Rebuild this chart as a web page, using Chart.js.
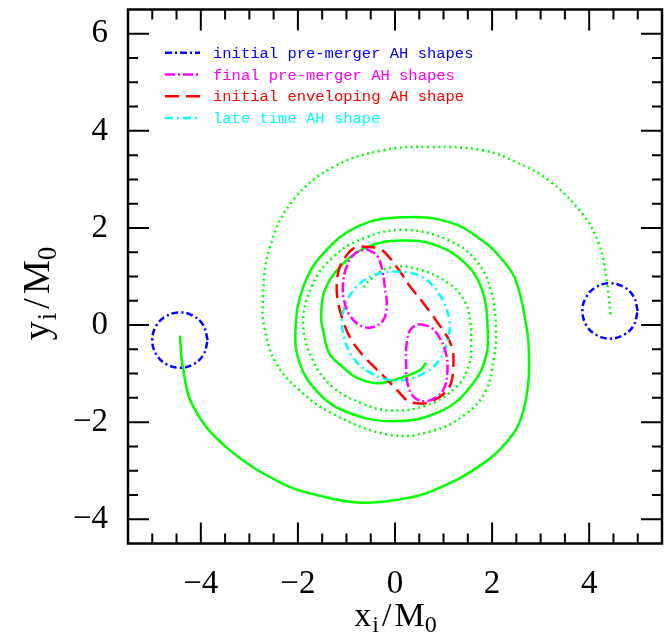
<!DOCTYPE html>
<html>
<head>
<meta charset="utf-8">
<script src="https://cdn.jsdelivr.net/npm/chart.js@4.4.1/dist/chart.umd.min.js"></script>
<style>
  html, body { margin: 0; padding: 0; background: #fff; }
  #wrap { width: 670px; height: 637px; }
</style>
</head>
<body>
<div id="wrap"><canvas id="grafico" width="670" height="637"></canvas></div>
<script>
// trajetoria do buraco 1 (linha cheia)
const bh1X = [-4.43, -4.37, -4.15, -3.47, -2.31, -1.50, -0.73, 0.05, 0.78, 1.80, 2.45, 2.66, 2.75, 2.76, 2.72, 2.49, 2.19, 1.80, 1.12, 0.20, -0.73, -1.48, -1.89, -2.05, -1.96, -1.62, -1.07, -0.05, 0.98, 1.60, 1.87, 1.91, 1.80, 1.46, 0.85, 0.13, -0.59, -1.14, -1.45, -1.52, -1.48, -1.35, -1.07, -0.80, -0.39, -0.05, 0.50, 0.64];
const bh1Y = [-0.22, -0.87, -1.69, -2.52, -3.27, -3.53, -3.66, -3.60, -3.41, -2.86, -2.22, -1.70, -1.14, -0.62, -0.11, 0.92, 1.37, 1.74, 2.12, 2.22, 2.05, 1.47, 0.78, -0.11, -0.80, -1.35, -1.76, -1.98, -1.76, -1.21, -0.66, -0.11, 0.71, 1.26, 1.64, 1.74, 1.60, 1.19, 0.71, 0.16, -0.11, -0.59, -0.87, -1.08, -1.20, -1.14, -0.94, -0.78];

// trajetoria do buraco 2 (pontilhada)
const bh2X = [4.44, 4.37, 4.20, 3.86, 3.17, 2.49, 1.80, 0.78, -0.25, -1.28, -2.10, -2.58, -2.72, -2.68, -2.44, -1.96, -1.28, -0.11, 0.78, 1.46, 1.87, 2.04, 2.08, 1.98, 1.67, 1.12, 0.23, -0.59, -1.28, -1.72, -1.89, -1.69, -1.28, -0.66, -0.11, 0.64, 1.26, 1.53, 1.57, 1.55, 1.46, 1.12, 0.44, -0.11, -0.50, -0.64];
const bh2Y = [0.22, 0.85, 1.67, 2.29, 2.98, 3.36, 3.60, 3.67, 3.60, 3.25, 2.57, 1.60, 0.57, -0.11, -0.80, -1.35, -1.83, -2.26, -2.18, -1.83, -1.35, -0.66, -0.11, 0.71, 1.33, 1.74, 1.96, 1.81, 1.40, 0.78, 0.02, -0.73, -1.28, -1.62, -1.76, -1.66, -1.28, -0.80, -0.32, 0.05, 0.44, 0.85, 1.16, 1.18, 0.95, 0.78];

// horizontes iniciais (azul)
const ahIniEsqX = [-3.86, -3.94, -4.14, -4.43, -4.72, -4.92, -5.00, -4.92, -4.72, -4.43, -4.14, -3.94, -3.86];
const ahIniEsqY = [-0.31, -0.02, 0.18, 0.26, 0.18, -0.02, -0.31, -0.60, -0.80, -0.88, -0.80, -0.60, -0.31];
const ahIniDirX = [5.00, 4.92, 4.72, 4.43, 4.14, 3.94, 3.86, 3.94, 4.14, 4.43, 4.72, 4.92, 5.00];
const ahIniDirY = [0.29, 0.58, 0.78, 0.86, 0.78, 0.58, 0.29, 0.00, -0.20, -0.28, -0.20, 0.00, 0.29];

// horizontes finais antes da fusao (magenta)
const ahFimAX = [-0.59, -0.37, -0.26, -0.21, -0.17, -0.25, -0.49, -0.73, -0.93, -1.05, -1.07, -1.00, -0.83, -0.59];
const ahFimAY = [1.57, 1.43, 1.12, 0.78, 0.40, 0.09, -0.05, 0.00, 0.20, 0.51, 0.85, 1.19, 1.47, 1.57];
const ahFimBX = [0.50, 0.74, 0.91, 1.05, 1.08, 1.02, 0.85, 0.61, 0.40, 0.26, 0.23, 0.24, 0.33, 0.50];
const ahFimBY = [0.02, -0.05, -0.25, -0.59, -0.94, -1.28, -1.49, -1.57, -1.49, -1.21, -0.80, -0.39, -0.08, 0.02];

// horizonte envolvente inicial (vermelho)
const ahEnvX = [-0.69, -0.32, -0.15, 0.09, 0.30, 0.57, 0.85, 1.08, 1.19, 1.20, 1.15, 1.00, 0.78, 0.64, 0.44, 0.26, 0.09, -0.15, -0.42, -0.69, -0.93, -1.07, -1.18, -1.20, -1.14, -1.00, -0.87, -0.69];
const ahEnvY = [1.62, 1.57, 1.43, 1.12, 0.81, 0.47, 0.09, -0.25, -0.53, -0.87, -1.21, -1.42, -1.56, -1.61, -1.61, -1.56, -1.39, -1.14, -0.87, -0.59, -0.25, 0.09, 0.51, 0.85, 1.19, 1.43, 1.57, 1.62];

// horizonte tardio (ciano)
const ahTardeX = [-0.05, 0.50, 0.91, 1.12, 1.08, 0.91, 0.50, 0.02, -0.46, -0.87, -1.08, -1.04, -0.80, -0.46, -0.05];
const ahTardeY = [1.11, 1.02, 0.64, 0.09, -0.32, -0.73, -1.04, -1.14, -1.01, -0.66, -0.11, 0.37, 0.78, 1.02, 1.11];

const xTickValues = [-4, -2, 0, 2, 4];
const yTickValues = [-4, -2, 0, 2, 4, 6];
const legendLabels = ['initial pre-merger AH shapes', 'final pre-merger AH shapes', 'initial enveloping AH shape', 'late time AH shape'];

const VERDE = '#00ff00', AZUL = '#0000ff', MAGENTA = '#ff00ff', VERMELHO = '#ff0000', CIANO = '#00ffff';

function pares(xs, ys) {
  return xs.map((x, i) => ({ x: x, y: ys[i] }));
}

function curva(xs, ys, cor, dash, largura) {
  return {
    data: pares(xs, ys),
    borderColor: cor,
    borderWidth: largura || 2.5,
    borderDash: dash,
    borderCapStyle: 'butt',
    showLine: true,
    pointRadius: 0,
    tension: 0.4,
    fill: false
  };
}

const fmt = v => (v < 0 ? '\u2212' + Math.abs(v) : String(v));

// moldura com marcas para dentro nos quatro lados
const molduraPlugin = {
  id: 'moldura',
  afterDatasetsDraw(chart) {
    const { ctx, chartArea: a, scales: { x, y } } = chart;
    ctx.save();
    ctx.strokeStyle = '#000';
    ctx.lineWidth = 2;
    ctx.setLineDash([]);
    ctx.beginPath();
    for (let v = -5; v <= 5.01; v += 0.5) {
      const px = x.getPixelForValue(v);
      const len = Math.abs(v % 2) < 1e-6 ? 21 : 10;
      ctx.moveTo(px, a.bottom); ctx.lineTo(px, a.bottom - len);
      ctx.moveTo(px, a.top); ctx.lineTo(px, a.top + len);
    }
    for (let v = -4; v <= 6.01; v += 0.5) {
      const py = y.getPixelForValue(v);
      const len = Math.abs(v % 2) < 1e-6 ? 21 : 10;
      ctx.moveTo(a.left, py); ctx.lineTo(a.left + len, py);
      ctx.moveTo(a.right, py); ctx.lineTo(a.right - len, py);
    }
    ctx.stroke();
    ctx.lineWidth = 2.5;
    ctx.strokeRect(a.left, a.top, a.right - a.left, a.bottom - a.top);
    ctx.restore();
  }
};

// escreve um titulo com subscritos: [texto, tamanho, deslocamento, espaco extra]
function escreverTitulo(ctx, partes) {
  const larg = p => { ctx.font = p[1] + 'px "Liberation Serif", serif'; return ctx.measureText(p[0]).width + (p[3] || 0); };
  const total = partes.reduce((s, p) => s + larg(p), 0);
  let cx = -total / 2;
  partes.forEach(p => {
    const w = larg(p);
    ctx.fillText(p[0], cx + (p[3] || 0) / 2, p[2]);
    cx += w;
  });
}

// legenda e titulos dos eixos
const textosPlugin = {
  id: 'textos',
  afterDraw(chart) {
    const { ctx, chartArea: a } = chart;
    ctx.save();
    ctx.font = '15.5px "Liberation Mono", monospace';
    ctx.textBaseline = 'alphabetic';
    legendLabels.forEach((txt, i) => {
      const ds = chart.data.datasets[legendDs[i]];
      const yl = a.top + 43.3 + i * 21.7;
      ctx.strokeStyle = ds.borderColor;
      ctx.lineWidth = 2.5;
      ctx.setLineDash(ds.borderDash || []);
      ctx.beginPath();
      ctx.moveTo(a.left + 37, yl);
      ctx.lineTo(a.left + 72, yl);
      ctx.stroke();
      ctx.fillStyle = ds.borderColor;
      ctx.fillText(txt, a.left + 85, yl + 5);
    });
    ctx.setLineDash([]);
    ctx.fillStyle = '#000';

    // titulo x
    ctx.save();
    ctx.translate((a.left + a.right) / 2, 625.5);
    escreverTitulo(ctx, [['x', 34, 0, 2], ['i', 24, 6], ['/', 34, 0, 6], ['M', 34, 0], ['0', 24, 6]]);
    ctx.restore();
    // titulo y
    ctx.save();
    ctx.translate(49, 294);
    ctx.rotate(-Math.PI / 2);
    escreverTitulo(ctx, [['y', 38, 0, 2], ['i', 27, 7], ['/', 38, 0, 8], ['M', 38, 0], ['0', 27, 7]]);
    ctx.restore();
    ctx.restore();
  }
};

const datasets = [
  curva(ahFimAX, ahFimAY, MAGENTA, [10, 3, 2, 3]),
  curva(ahFimBX, ahFimBY, MAGENTA, [10, 3, 2, 3]),
  curva(ahTardeX, ahTardeY, CIANO, [8, 4, 2, 4]),
  curva(ahEnvX, ahEnvY, VERMELHO, [14, 7]),
  curva(ahIniEsqX, ahIniEsqY, AZUL, [7, 3, 2, 3]),
  curva(ahIniDirX, ahIniDirY, AZUL, [7, 3, 2, 3]),
  curva(bh2X, bh2Y, VERDE, [2, 3.5]),
  curva(bh1X, bh1Y, VERDE, [])
];
// dataset usado para cada linha da legenda
const legendDs = [4, 0, 3, 2];

const semPadding = scale => {
  scale.paddingTop = 0; scale.paddingBottom = 0;
  scale.paddingLeft = 0; scale.paddingRight = 0;
};

new Chart(document.getElementById('grafico'), {
  type: 'scatter',
  data: { datasets: datasets },
  options: {
    responsive: false,
    devicePixelRatio: 1,
    animation: false,
    layout: { padding: { top: 9.5, right: 8, left: 0, bottom: 0 } },
    plugins: { legend: { display: false }, tooltip: { enabled: false } },
    scales: {
      x: {
        type: 'linear',
        min: -5.5,
        max: 5.5,
        grid: { display: false },
        border: { display: false },
        ticks: {
          color: '#000',
          padding: 13,
          maxRotation: 0,
          font: { family: '"Liberation Serif", serif', size: 33 },
          callback: fmt
        },
        afterBuildTicks: s => { s.ticks = xTickValues.map(v => ({ value: v })); },
        afterFit: s => { s.height = 93.5; semPadding(s); }
      },
      y: {
        type: 'linear',
        min: -4.5,
        max: 6.5,
        grid: { display: false },
        border: { display: false },
        ticks: {
          color: '#000',
          padding: 12,
          font: { family: '"Liberation Serif", serif', size: 33 },
          callback: fmt
        },
        afterBuildTicks: s => { s.ticks = yTickValues.map(v => ({ value: v })); },
        afterFit: s => { s.width = 128; semPadding(s); }
      }
    }
  },
  plugins: [molduraPlugin, textosPlugin]
});
</script>
</body>
</html>
